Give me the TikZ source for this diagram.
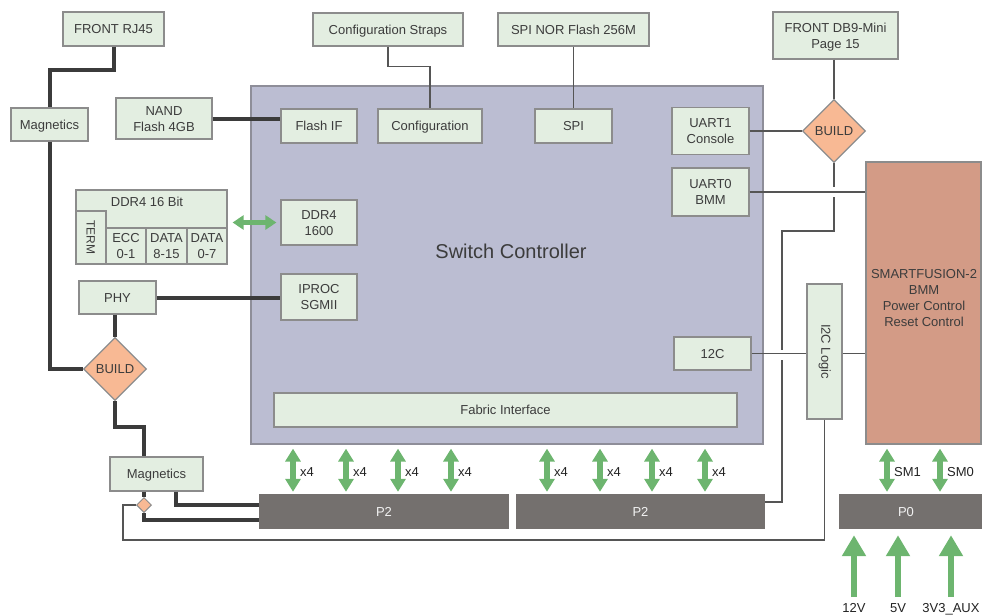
\documentclass[tikz,border=0pt]{standalone}
\usepackage{fontspec}
\setmainfont{Liberation Sans}
\usetikzlibrary{arrows.meta,shapes.geometric}

\definecolor{boxgreen}{HTML}{E3EEE1}
\definecolor{boxline}{HTML}{8C8C8C}
\definecolor{swfill}{HTML}{BBBDD2}
\definecolor{swline}{HTML}{8E8E99}
\definecolor{buildfill}{HTML}{F8B994}
\definecolor{smartfill}{HTML}{D39B86}
\definecolor{portfill}{HTML}{74706E}
\definecolor{porttxt}{HTML}{F2F2F2}
\definecolor{lanegreen}{HTML}{6DB56F}
\definecolor{busline}{HTML}{3B3B3B}
\definecolor{sigline}{HTML}{555555}
\definecolor{txt}{HTML}{3C3C3C}
\definecolor{lbltxt}{HTML}{222222}

\newcommand\boxfont{\fontsize{13}{16}\selectfont}

\begin{document}
\begin{tikzpicture}[x=1pt,y=-1pt,
    lines/.style={text height=#1,text depth=0pt},
    lines/.default=9.4pt,
    blk/.style={draw=boxline,fill=boxgreen,line width=1.2pt,text=txt,align=center,inner sep=0pt,font=\boxfont,lines},
    build/.style={diamond,draw=boxline,fill=buildfill,line width=1.2pt,inner sep=0pt,minimum width=63pt,minimum height=63pt,text=txt,font=\boxfont,lines},
    port/.style={fill=portfill,text=porttxt,inner sep=0pt,minimum height=35pt,font=\boxfont,lines},
    lbl/.style={text=lbltxt,inner sep=0pt,font=\boxfont,lines},
    bus/.style={draw=busline,line width=4pt},
    sig/.style={draw=sigline,line width=1.6pt},
    lane/.style={draw=lanegreen,line width=6pt,{Triangle[width=15pt,length=13pt]}-{Triangle[width=15pt,length=13pt]}},
    feed/.style={draw=lanegreen,line width=6pt,-{Triangle[width=23pt,length=21pt]}}]
    \useasboundingbox (0,0) rectangle (982,614);

    % switch controller
    \node[draw=swline,fill=swfill,line width=1.2pt,inner sep=0pt,minimum width=512pt,minimum height=358pt] (sw) at (507,265) {};
    \node[text=txt,font=\fontsize{20}{24}\selectfont,inner sep=0pt,text height=14.5pt,text depth=0pt] (swtitle) at (511,251) {Switch Controller};
    \node[blk,minimum width=76pt,minimum height=34pt] (flashif) at (319,126) {Flash IF};
    \node[blk,minimum width=104pt,minimum height=34pt] (config) at (430,126) {Configuration};
    \node[blk,minimum width=77pt,minimum height=34pt] (spi) at (573.5,126) {SPI};
    \node[blk,lines=25.4pt,minimum width=77pt,minimum height=47pt] (uart1) at (710.5,131) {UART1\\Console};
    \node[blk,lines=25.4pt,minimum width=77pt,minimum height=48pt] (uart0) at (710.5,192) {UART0\\BMM};
    \node[blk,lines=25.4pt,minimum width=76pt,minimum height=45pt] (ddrc) at (319,222.5) {DDR4\\1600};
    \node[blk,lines=25.4pt,minimum width=76pt,minimum height=46pt] (iproc) at (319,297) {IPROC\\SGMII};
    \node[blk,minimum width=77pt,minimum height=33pt] (i2cc) at (712.5,353.5) {12C};
    \node[blk,minimum width=463pt,minimum height=34pt] (fabric) at (505.5,410) {Fabric Interface};

    % outside parts
    \node[blk,minimum width=101pt,minimum height=34pt] (rj45) at (113.5,29) {FRONT RJ45};
    \node[blk,minimum width=77pt,minimum height=33pt] (magtop) at (49.5,124.5) {Magnetics};
    \node[blk,lines=25.4pt,minimum width=96pt,minimum height=41pt] (nand) at (164,118.5) {NAND\\Flash 4GB};
    \node[blk,minimum width=150pt,minimum height=33pt] (straps) at (388,29.5) {Configuration Straps};
    \node[blk,minimum width=151pt,minimum height=33pt] (nor) at (573.5,29.5) {SPI NOR Flash 256M};
    \node[blk,lines=25.4pt,minimum width=125pt,minimum height=47pt] (db9) at (835.5,35.5) {FRONT DB9-Mini\\Page 15};
    \node[build] (buildr) at (834,131) {BUILD};

    % ddr4 memory
    \node[blk,minimum width=151pt,minimum height=74pt] (ddr) at (151.5,227) {};
    \node[lbl,text=txt] (ddrhdr) at (147,202) {DDR4 16 Bit};
    \node[blk,minimum width=30pt,minimum height=53pt] (term) at (91,237.5) {};
    \node[text=txt,font=\fontsize{12}{14}\selectfont,inner sep=0pt,text height=8.7pt,text depth=0pt,rotate=-90] (termtxt) at (term) {TERM};
    \node[blk,lines=25.4pt,minimum width=40pt,minimum height=36pt] (ecc) at (126,246) {ECC\\0-1};
    \node[blk,lines=25.4pt,minimum width=41pt,minimum height=36pt] (data8) at (166.5,246) {DATA\\8-15};
    \node[blk,lines=25.4pt,minimum width=40pt,minimum height=36pt] (data0) at (207,246) {DATA\\0-7};

    \node[blk,minimum width=77pt,minimum height=33pt] (phy) at (117.5,297.5) {PHY};
    \node[build] (buildl) at (115,369) {BUILD};
    \node[blk,minimum width=93pt,minimum height=34pt] (magbot) at (156.5,474) {Magnetics};
    \node[diamond,draw=boxline,fill=buildfill,line width=1pt,inner sep=0pt,minimum width=15pt,minimum height=15pt] (smalld) at (144,505) {};

    % bmm side
    \node[draw=boxline,fill=smartfill,line width=1.2pt,inner sep=0pt,minimum width=115pt,minimum height=282pt] (smart) at (923.5,303) {};
    \node[lbl,lines=57.4pt,text=txt,align=center] (smarttxt) at (924,298) {SMARTFUSION-2\\BMM\\Power Control\\Reset Control};
    \node[blk,minimum width=35pt,minimum height=135pt] (i2clogic) at (824.5,351.5) {};
    \node[text=txt,font=\boxfont,inner sep=0pt,lines,rotate=-90] (i2ctxt) at (826,351.5) {I2C Logic};

    % connectors
    \node[port,minimum width=250pt] (p2a) at (384,511.5) {P2};
    \node[port,minimum width=249pt] (p2b) at (640.5,511.5) {P2};
    \node[port,minimum width=143pt] (p0) at (910.5,511.5) {};
    \node[lbl,text=porttxt] (p0txt) at (906,511.5) {P0};

    % thick ethernet path
    \draw[bus] (rj45.south) -- (rj45.south |- 0,70) -| (magtop.north);
    \draw[bus] (magtop.south) |- (buildl.west);
    \draw[bus] (nand.east) -- (nand.east -| flashif.west);
    \draw[bus] (phy.east) -- (phy.east -| iproc.west);
    \draw[bus] (buildl.north |- phy.south) -- (buildl.north);
    \draw[bus] (buildl.south) -- (buildl.south |- 0,427) -| (smalld |- magbot.north);
    \draw[bus] (smalld |- magbot.south) -- (smalld.north);
    \draw[bus] (smalld.south) |- (p2a.west |- 0,520);
    \draw[bus] (magbot.south -| 176,0) |- (p2a.west |- 0,505);

    % thin signals
    \draw[sig] (straps.south) -- ++(0,20) -| (config.north);
    \draw[sig] (nor.south) -- (spi.north);
    \draw[sig] (buildr.north |- db9.south) -- (buildr.north);
    \draw[sig] (uart1.east) -- (uart1.east -| buildr.west);
    \draw[sig] (buildr.south) |- (782,231) |- (p2b.east |- 0,502);
    \draw[sig] (i2clogic.south) |- (123,540) |- (smalld.west);
    \fill[white] (830,187) rectangle (838,197);
    \fill[white] (778,350) rectangle (786,360);
    \draw[sig] (uart0.east) -- (uart0.east -| smart.west);
    \draw[sig] (i2cc.east) -- (i2cc.east -| i2clogic.west);
    \draw[sig] (i2clogic.east |- i2cc.east) -- (i2cc.east -| smart.west);

    % memory link
    \draw[draw=lanegreen,line width=5pt,{Triangle[width=14pt,length=11pt]}-{Triangle[width=14pt,length=11pt]},shorten <=5pt,shorten >=4pt] (ddr.east |- ddrc.west) -- (ddrc.west);

    % serdes lanes
    \foreach \x in {293,346,398,451} {
      \draw[lane,shorten <=4pt,shorten >=2pt] (\x,0 |- sw.south) -- (\x,0 |- p2a.north);
      \node[lbl,anchor=west] at (\x+7,472) {x4};
    }
    \foreach \x in {547,600,652,705} {
      \draw[lane,shorten <=4pt,shorten >=2pt] (\x,0 |- sw.south) -- (\x,0 |- p2b.north);
      \node[lbl,anchor=west] at (\x+7,472) {x4};
    }
    \foreach \x/\name in {887/SM1,940/SM0} {
      \draw[lane,shorten <=4pt,shorten >=2pt] (\x,0 |- smart.south) -- (\x,0 |- p0.north);
      \node[lbl,anchor=west] at (\x+7,472) {\name};
    }

    % power inputs
    \node[lbl,anchor=north] (v12) at (854,603) {12V};
    \node[lbl,anchor=north] (v5) at (898,603) {5V};
    \node[lbl,anchor=north] (v3) at (951,603) {3V3\_AUX};
    \foreach \v in {v12,v5,v3}
      \draw[feed,shorten <=6pt,shorten >=6pt] (\v.north) -- (\v.north |- p0.south);
\end{tikzpicture}
\end{document}
